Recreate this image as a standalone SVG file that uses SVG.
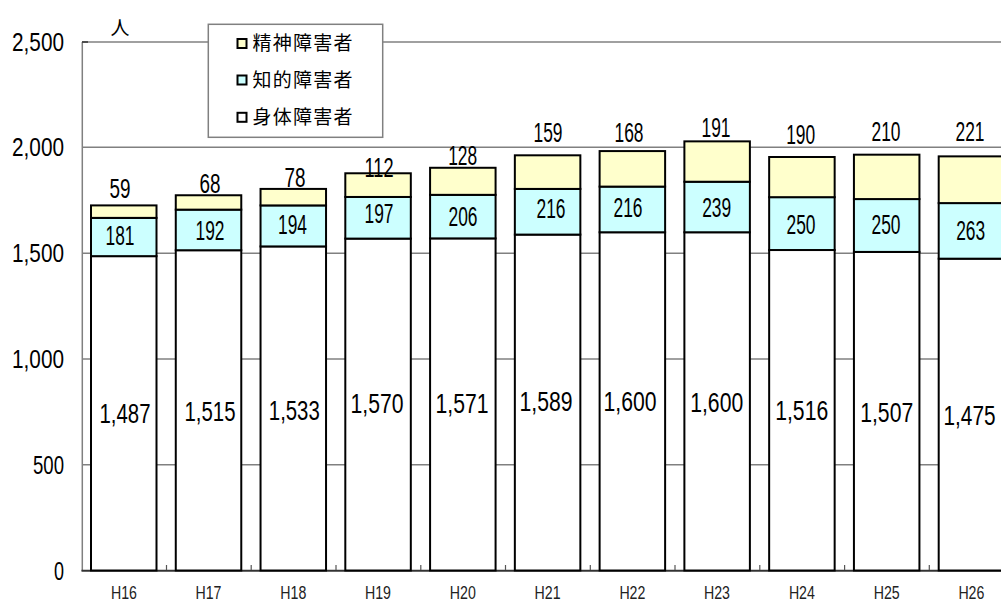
<svg xmlns="http://www.w3.org/2000/svg" width="1001" height="600" viewBox="0 0 1001 600">
<style>
.grid{stroke:#808080;stroke-width:1.5;fill:none}
.phys{fill:#ffffff;stroke:#000;stroke-width:2}
.intel{fill:#ccffff;stroke:#000;stroke-width:2}
.ment{fill:#ffffcc;stroke:#000;stroke-width:2}
.v{font-family:"Liberation Sans",Arial,sans-serif;font-size:27px;fill:#000;text-anchor:middle}
.ax{font-family:"Liberation Sans",Arial,sans-serif;font-size:25px;fill:#000;text-anchor:end}
.cat{font-family:"Liberation Sans",Arial,sans-serif;font-size:18px;fill:#222;text-anchor:middle}
.lg{font-family:"Noto Sans CJK JP","Noto Sans CJK SC",sans-serif;font-size:19px;fill:#000}
.sw{stroke:#000;stroke-width:2}
</style>
<rect width="1001" height="600" fill="#fff"/>
<g id="axes">
<line class="grid" x1="82" y1="42" x2="1001" y2="42"/>
<line class="grid" x1="82" y1="147.3" x2="1001" y2="147.3"/>
<line class="grid" x1="82" y1="253.2" x2="1001" y2="253.2"/>
<line class="grid" x1="82" y1="359" x2="1001" y2="359"/>
<line class="grid" x1="82" y1="464.8" x2="1001" y2="464.8"/>
<line x1="82.3" y1="42" x2="82.3" y2="571" stroke="#808080" stroke-width="1.5"/>
<line x1="82" y1="42" x2="88" y2="42" stroke="#333" stroke-width="1.5"/>
<line x1="81.5" y1="570.7" x2="1001" y2="570.7" stroke="#333" stroke-width="2"/>
<g stroke="#555" stroke-width="1.2">
<line x1="166.5" y1="570" x2="166.5" y2="565"/>
<line x1="251.2" y1="570" x2="251.2" y2="565"/>
<line x1="336" y1="570" x2="336" y2="565"/>
<line x1="420.8" y1="570" x2="420.8" y2="565"/>
<line x1="505.5" y1="570" x2="505.5" y2="565"/>
<line x1="590.3" y1="570" x2="590.3" y2="565"/>
<line x1="675" y1="570" x2="675" y2="565"/>
<line x1="759.8" y1="570" x2="759.8" y2="565"/>
<line x1="844.6" y1="570" x2="844.6" y2="565"/>
<line x1="929.3" y1="570" x2="929.3" y2="565"/>
</g>
<text class="ax" x="64" y="51" textLength="52" lengthAdjust="spacingAndGlyphs">2,500</text>
<text class="ax" x="64" y="156" textLength="52" lengthAdjust="spacingAndGlyphs">2,000</text>
<text class="ax" x="64" y="262" textLength="52" lengthAdjust="spacingAndGlyphs">1,500</text>
<text class="ax" x="64" y="368" textLength="52" lengthAdjust="spacingAndGlyphs">1,000</text>
<text class="ax" x="64" y="474" textLength="31" lengthAdjust="spacingAndGlyphs">500</text>
<text class="ax" x="64" y="580" textLength="10" lengthAdjust="spacingAndGlyphs">0</text>
<text class="lg" x="120" y="35" text-anchor="middle">人</text>
</g>
<g id="bars">
<g id="H16">
<rect class="phys" x="91" y="256.15" width="65.5" height="314.35"/>
<rect class="intel" x="91" y="217.88" width="65.5" height="38.27"/>
<rect class="ment" x="91" y="205.41" width="65.5" height="12.47"/>
</g>
<g id="H17">
<rect class="phys" x="175.77" y="250.23" width="65.5" height="320.27"/>
<rect class="intel" x="175.77" y="209.64" width="65.5" height="40.59"/>
<rect class="ment" x="175.77" y="195.26" width="65.5" height="14.38"/>
</g>
<g id="H18">
<rect class="phys" x="260.54" y="246.42" width="65.5" height="324.08"/>
<rect class="intel" x="260.54" y="205.41" width="65.5" height="41.01"/>
<rect class="ment" x="260.54" y="188.92" width="65.5" height="16.49"/>
</g>
<g id="H19">
<rect class="phys" x="345.31" y="238.6" width="65.5" height="331.9"/>
<rect class="intel" x="345.31" y="196.96" width="65.5" height="41.64"/>
<rect class="ment" x="345.31" y="173.28" width="65.5" height="23.68"/>
</g>
<g id="H20">
<rect class="phys" x="430.08" y="238.39" width="65.5" height="332.11"/>
<rect class="intel" x="430.08" y="194.84" width="65.5" height="43.55"/>
<rect class="ment" x="430.08" y="167.78" width="65.5" height="27.06"/>
</g>
<g id="H21">
<rect class="phys" x="514.85" y="234.59" width="65.5" height="335.91"/>
<rect class="intel" x="514.85" y="188.92" width="65.5" height="45.67"/>
<rect class="ment" x="514.85" y="155.31" width="65.5" height="33.61"/>
</g>
<g id="H22">
<rect class="phys" x="599.62" y="232.26" width="65.5" height="338.24"/>
<rect class="intel" x="599.62" y="186.6" width="65.5" height="45.66"/>
<rect class="ment" x="599.62" y="151.08" width="65.5" height="35.52"/>
</g>
<g id="H23">
<rect class="phys" x="684.39" y="232.26" width="65.5" height="338.24"/>
<rect class="intel" x="684.39" y="181.74" width="65.5" height="50.52"/>
<rect class="ment" x="684.39" y="141.36" width="65.5" height="40.38"/>
</g>
<g id="H24">
<rect class="phys" x="769.16" y="250.02" width="65.5" height="320.48"/>
<rect class="intel" x="769.16" y="197.17" width="65.5" height="52.85"/>
<rect class="ment" x="769.16" y="157" width="65.5" height="40.17"/>
</g>
<g id="H25">
<rect class="phys" x="853.93" y="251.92" width="65.5" height="318.58"/>
<rect class="intel" x="853.93" y="199.07" width="65.5" height="52.85"/>
<rect class="ment" x="853.93" y="154.68" width="65.5" height="44.39"/>
</g>
<g id="H26">
<rect class="phys" x="938.7" y="258.68" width="65.5" height="311.82"/>
<rect class="intel" x="938.7" y="203.09" width="65.5" height="55.59"/>
<rect class="ment" x="938.7" y="156.37" width="65.5" height="46.72"/>
</g>
</g>
<g id="labels">
<text class="v" x="120" y="198" textLength="21" lengthAdjust="spacingAndGlyphs">59</text>
<text class="v" x="210" y="193" textLength="21" lengthAdjust="spacingAndGlyphs">68</text>
<text class="v" x="295" y="187" textLength="21" lengthAdjust="spacingAndGlyphs">78</text>
<text class="v" x="379" y="176.7" textLength="29" lengthAdjust="spacingAndGlyphs">112</text>
<text class="v" x="462.7" y="165" textLength="29" lengthAdjust="spacingAndGlyphs">128</text>
<text class="v" x="548" y="141.7" textLength="29" lengthAdjust="spacingAndGlyphs">159</text>
<text class="v" x="629" y="141.7" textLength="29" lengthAdjust="spacingAndGlyphs">168</text>
<text class="v" x="716" y="136.7" textLength="29" lengthAdjust="spacingAndGlyphs">191</text>
<text class="v" x="800.7" y="144.3" textLength="29" lengthAdjust="spacingAndGlyphs">190</text>
<text class="v" x="886" y="140.7" textLength="29" lengthAdjust="spacingAndGlyphs">210</text>
<text class="v" x="970" y="140.7" textLength="29" lengthAdjust="spacingAndGlyphs">221</text>
<text class="v" x="120" y="245" textLength="29" lengthAdjust="spacingAndGlyphs">181</text>
<text class="v" x="210" y="240" textLength="29" lengthAdjust="spacingAndGlyphs">192</text>
<text class="v" x="292.5" y="234" textLength="29" lengthAdjust="spacingAndGlyphs">194</text>
<text class="v" x="379" y="223" textLength="29" lengthAdjust="spacingAndGlyphs">197</text>
<text class="v" x="463" y="226" textLength="29" lengthAdjust="spacingAndGlyphs">206</text>
<text class="v" x="551" y="217.7" textLength="29" lengthAdjust="spacingAndGlyphs">216</text>
<text class="v" x="628" y="216.7" textLength="29" lengthAdjust="spacingAndGlyphs">216</text>
<text class="v" x="716.7" y="217.3" textLength="29" lengthAdjust="spacingAndGlyphs">239</text>
<text class="v" x="801" y="234" textLength="29" lengthAdjust="spacingAndGlyphs">250</text>
<text class="v" x="886" y="234" textLength="29" lengthAdjust="spacingAndGlyphs">250</text>
<text class="v" x="970.7" y="240" textLength="29" lengthAdjust="spacingAndGlyphs">263</text>
<text class="v" x="125" y="423" textLength="51" lengthAdjust="spacingAndGlyphs">1,487</text>
<text class="v" x="210" y="420.7" textLength="51" lengthAdjust="spacingAndGlyphs">1,515</text>
<text class="v" x="294.3" y="420" textLength="51" lengthAdjust="spacingAndGlyphs">1,533</text>
<text class="v" x="377" y="413" textLength="53" lengthAdjust="spacingAndGlyphs">1,570</text>
<text class="v" x="462" y="413" textLength="53" lengthAdjust="spacingAndGlyphs">1,571</text>
<text class="v" x="546" y="410.7" textLength="53" lengthAdjust="spacingAndGlyphs">1,589</text>
<text class="v" x="630" y="410.7" textLength="53" lengthAdjust="spacingAndGlyphs">1,600</text>
<text class="v" x="716.7" y="411.7" textLength="53" lengthAdjust="spacingAndGlyphs">1,600</text>
<text class="v" x="801.7" y="420" textLength="53" lengthAdjust="spacingAndGlyphs">1,516</text>
<text class="v" x="886.7" y="421.7" textLength="53" lengthAdjust="spacingAndGlyphs">1,507</text>
<text class="v" x="969.5" y="425" textLength="52" lengthAdjust="spacingAndGlyphs">1,475</text>
</g>
<g id="categories">
<text class="cat" x="124" y="599" textLength="26" lengthAdjust="spacingAndGlyphs">H16</text>
<text class="cat" x="208.5" y="599" textLength="26" lengthAdjust="spacingAndGlyphs">H17</text>
<text class="cat" x="293.3" y="599" textLength="26" lengthAdjust="spacingAndGlyphs">H18</text>
<text class="cat" x="378" y="599" textLength="26" lengthAdjust="spacingAndGlyphs">H19</text>
<text class="cat" x="462.8" y="599" textLength="26" lengthAdjust="spacingAndGlyphs">H20</text>
<text class="cat" x="547.6" y="599" textLength="26" lengthAdjust="spacingAndGlyphs">H21</text>
<text class="cat" x="632.4" y="599" textLength="26" lengthAdjust="spacingAndGlyphs">H22</text>
<text class="cat" x="717" y="599" textLength="26" lengthAdjust="spacingAndGlyphs">H23</text>
<text class="cat" x="801.9" y="599" textLength="26" lengthAdjust="spacingAndGlyphs">H24</text>
<text class="cat" x="886.7" y="599" textLength="26" lengthAdjust="spacingAndGlyphs">H25</text>
<text class="cat" x="971.4" y="599" textLength="26" lengthAdjust="spacingAndGlyphs">H26</text>
</g>
<g id="legend">
<rect x="208.3" y="24.3" width="174.4" height="113" fill="#fff" stroke="#808080" stroke-width="1.5"/>
<rect class="sw" x="237.5" y="39" width="9" height="9" fill="#ffffcc"/>
<rect class="sw" x="237.5" y="75.5" width="9" height="9" fill="#ccffff"/>
<rect class="sw" x="237.5" y="112.8" width="9" height="9" fill="#ffffff"/>
<text class="lg" x="252.5" y="50.3" textLength="100" lengthAdjust="spacing">精神障害者</text>
<text class="lg" x="252.5" y="87" textLength="100" lengthAdjust="spacing">知的障害者</text>
<text class="lg" x="252.5" y="124.3" textLength="100" lengthAdjust="spacing">身体障害者</text>
</g>
</svg>
